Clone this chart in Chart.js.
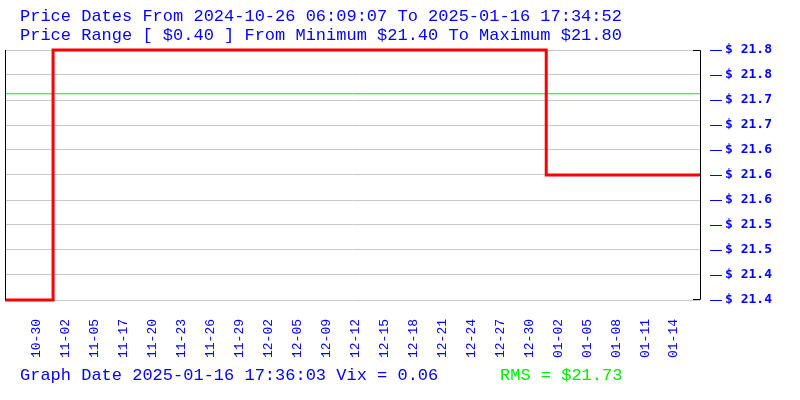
<!DOCTYPE html>
<html>
<head>
<meta charset="utf-8">
<script src="https://cdn.jsdelivr.net/npm/chart.js@4.4.1/dist/chart.umd.min.js"></script>
<style>
  body { margin: 0; background: #fff; }
  canvas { display: block; }
</style>
</head>
<body>
<canvas id="priceChart" width="800" height="400"></canvas>
<script>
// x axis date labels (one per slot, slots 1..23 on a 0..24 axis)
const dateLabels = ['10-30', '11-02', '11-05', '11-17', '11-20', '11-23', '11-26', '11-29',
  '12-02', '12-05', '12-09', '12-12', '12-15', '12-18', '12-21', '12-24', '12-27', '12-30',
  '01-02', '01-05', '01-08', '01-11', '01-14'];

// price steps: position on the date axis (slot units) and price
const priceX = [0, 1.66, 18.69, 24];
const priceY = [21.40, 21.80, 21.60, 21.60];

const yTicks = [21.40, 21.44, 21.48, 21.52, 21.56, 21.60, 21.64, 21.68, 21.72, 21.76, 21.80];
const rmsValue = 21.73;

const titleLines = [
  'Price Dates From 2024-10-26 06:09:07 To 2025-01-16 17:34:52',
  'Price Range [ $0.40 ] From Minimum $21.40 To Maximum $21.80'
];
const footerText = 'Graph Date 2025-01-16 17:36:03 Vix = 0.06';
const rmsText = 'RMS = $21.73';

const BLUE = '#0000ff';
const MONO = '"Liberation Mono", "DejaVu Sans Mono", monospace';

const decorations = {
  id: 'decorations',
  afterDraw(chart) {
    const c = chart.ctx;
    const a = chart.chartArea;
    const ys = chart.scales.y;
    c.save();
    // left border and right bracket
    c.strokeStyle = '#000';
    c.lineWidth = 1;
    c.beginPath();
    c.moveTo(a.left + 0.5, a.top);
    c.lineTo(a.left + 0.5, a.bottom);
    c.moveTo(a.right - 7, a.top + 0.5);
    c.lineTo(a.right + 0.5, a.top + 0.5);
    c.lineTo(a.right + 0.5, a.bottom - 0.5);
    c.lineTo(a.right - 7, a.bottom - 0.5);
    c.stroke();
    // blue dashes beside the tick labels
    c.strokeStyle = BLUE;
    c.beginPath();
    yTicks.forEach(v => {
      const py = Math.round(ys.getPixelForValue(v)) + 0.5;
      c.moveTo(a.right + 10, py);
      c.lineTo(a.right + 22, py);
    });
    c.stroke();
    // titles and footer
    c.font = '17px ' + MONO;
    c.textBaseline = 'middle';
    c.textAlign = 'left';
    c.fillStyle = BLUE;
    c.fillText(titleLines[0], 20, 16);
    c.fillText(titleLines[1], 20, 35);
    c.fillText(footerText, 20, 375);
    c.fillStyle = '#00ee00';
    c.fillText(rmsText, 500, 375);
    c.restore();
  }
};

new Chart(document.getElementById('priceChart'), {
  type: 'line',
  data: {
    datasets: [{
      label: 'Price',
      data: priceX.map((x, i) => ({ x: x, y: priceY[i] })),
      borderColor: '#ff0000',
      borderWidth: 3,
      stepped: 'before',
      pointRadius: 0,
      clip: false,
      fill: false,
      order: 0
    }, {
      label: 'RMS',
      data: [{ x: 0, y: rmsValue }, { x: 24, y: rmsValue }],
      borderColor: '#00ee00',
      borderWidth: 1,
      pointRadius: 0,
      fill: false,
      order: 1
    }]
  },
  options: {
    responsive: false,
    animation: false,
    layout: { padding: { left: 5, top: 50, right: 0, bottom: 0 } },
    plugins: { legend: { display: false }, tooltip: { enabled: false } },
    scales: {
      x: {
        type: 'linear',
        min: 0,
        max: 24,
        grid: { display: false },
        border: { display: false },
        afterBuildTicks: s => { s.ticks = dateLabels.map((_, i) => ({ value: i + 1 })); },
        afterFit: s => { s.height = 100; },
        ticks: {
          autoSkip: false,
          minRotation: 90,
          maxRotation: 90,
          padding: 11,
          labelOffset: 3,
          color: BLUE,
          font: { family: MONO, size: 13 },
          callback: v => dateLabels[v - 1]
        }
      },
      y: {
        position: 'right',
        min: 21.40,
        max: 21.80,
        grid: { color: '#c8c8c8', drawTicks: false },
        border: { display: false },
        afterBuildTicks: s => { s.ticks = yTicks.map(v => ({ value: v })); },
        afterFit: s => { s.width = 100; },
        ticks: {
          padding: 25,
          color: BLUE,
          font: { family: '"DejaVu Sans Mono", monospace', size: 13, weight: 'bold' },
          callback: v => '$ ' + v.toFixed(1)
        }
      }
    }
  },
  plugins: [decorations]
});
</script>
</body>
</html>
